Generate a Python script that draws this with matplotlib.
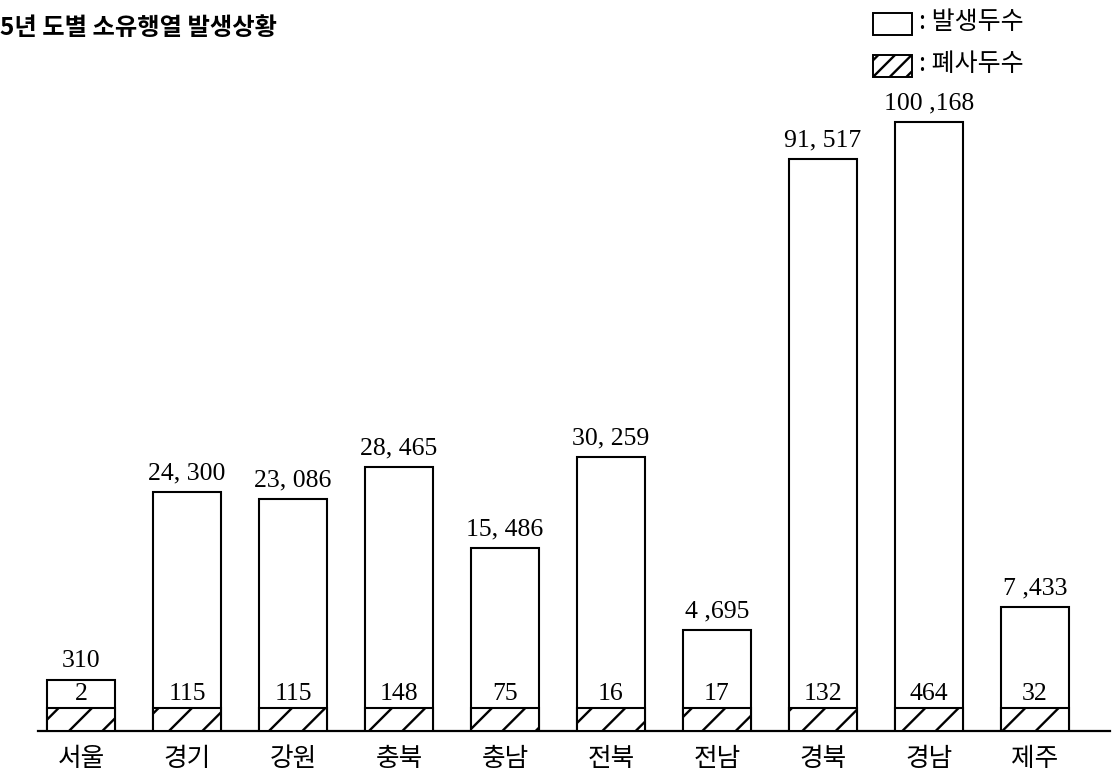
import numpy as np
import matplotlib
matplotlib.use("Agg")
import matplotlib.pyplot as plt
from matplotlib.patches import Rectangle

plt.rcParams["font.family"] = ["Noto Sans CJK KR", "DejaVu Sans"]
plt.rcParams["hatch.linewidth"] = 1.7

# ─────────────────────────────────────────────────────────────
# data
# ─────────────────────────────────────────────────────────────
provinces = ["서울", "경기", "강원", "충북", "충남", "전북", "전남", "경북", "경남", "제주"]
cases = [310, 24300, 23086, 28465, 15486, 30259, 4695, 91517, 100168, 7433]
deaths = [2, 115, 115, 148, 75, 16, 17, 132, 464, 32]
case_labels = ["310", "24, 300", "23, 086", "28, 465", "15, 486",
               "30, 259", "4 ,695", "91, 517", "100 ,168", "7 ,433"]

title = "5년 도별 소유행열 발생상황"
legend_labels = [": 발생두수", ": 폐사두수"]

# ─────────────────────────────────────────────────────────────
# the original is not drawn to a linear scale: a power scale
# with the baseline a little below zero follows it fairly well
# ─────────────────────────────────────────────────────────────
P = 0.75


def fwd(v):
    v = np.asarray(v, dtype=float)
    return np.sign(v) * np.abs(v) ** P


def inv(v):
    v = np.asarray(v, dtype=float)
    return np.sign(v) * np.abs(v) ** (1 / P)


Y_BASE, Y_TOP = -3300, 130000
BAND_FRAC = 23 / 731          # hatched band height, fraction of axes height

W, H = 1114, 774
fig = plt.figure(figsize=(W / 100, H / 100), dpi=100)
ax = fig.add_axes([0, 43 / H, 1, 1 - 43 / H])
ax.set_yscale("function", functions=(fwd, inv))
ax.set_ylim(Y_BASE, Y_TOP)
x = np.arange(len(provinces))
ax.set_xlim(-81 / 106, (W - 81) / 106)

span = fwd(Y_TOP) - fwd(Y_BASE)
band_top = float(inv(fwd(Y_BASE) + BAND_FRAC * span))

ax.bar(x, np.array(cases) - Y_BASE, bottom=Y_BASE, width=0.65,
       facecolor="white", edgecolor="black", linewidth=1.5, zorder=2)
ax.bar(x, band_top - Y_BASE, bottom=Y_BASE, width=0.65,
       facecolor="white", edgecolor="black", linewidth=1.5,
       hatch="/", zorder=3)

for xi, c, lab in zip(x, cases, case_labels):
    ax.annotate(lab, (xi, c), xytext=(0, 9), textcoords="offset points",
                ha="center", va="baseline", fontsize=18.5,
                family="Liberation Serif")
for xi, d in zip(x, deaths):
    ax.annotate(str(d), (xi, band_top), xytext=(0, 6),
                textcoords="offset points", ha="center", va="baseline",
                fontsize=18.5, family="Liberation Serif")

ax.set_xticks(x, provinces, fontsize=18.5)
ax.tick_params(axis="x", length=0, pad=11)
ax.set_yticks([])
for s in ["left", "right", "top"]:
    ax.spines[s].set_visible(False)
ax.spines["bottom"].set_linewidth(1.6)
ax.spines["bottom"].set_bounds(-0.41, 9.71)
ax.patch.set_alpha(0)


def fx(px):
    return px / W


def fy(py):
    return 1 - py / H


# title (left edge is cut off in the scan)
fig.text(fx(0), fy(28), title, fontsize=17.5, fontweight="bold",
         ha="left", va="center")

# legend drawn by hand, top right
for i, (lab, hatch) in enumerate(zip(legend_labels, [None, "//"])):
    y0 = 13 + i * 42
    fig.add_artist(Rectangle((fx(873), fy(y0 + 22)), fx(39), 22 / H,
                             transform=fig.transFigure, facecolor="white",
                             edgecolor="black", linewidth=1.4, hatch=hatch))
    fig.text(fx(919), fy(y0 + 9), lab, fontsize=18, ha="left", va="center")

fig.savefig("out.png", dpi=100)
